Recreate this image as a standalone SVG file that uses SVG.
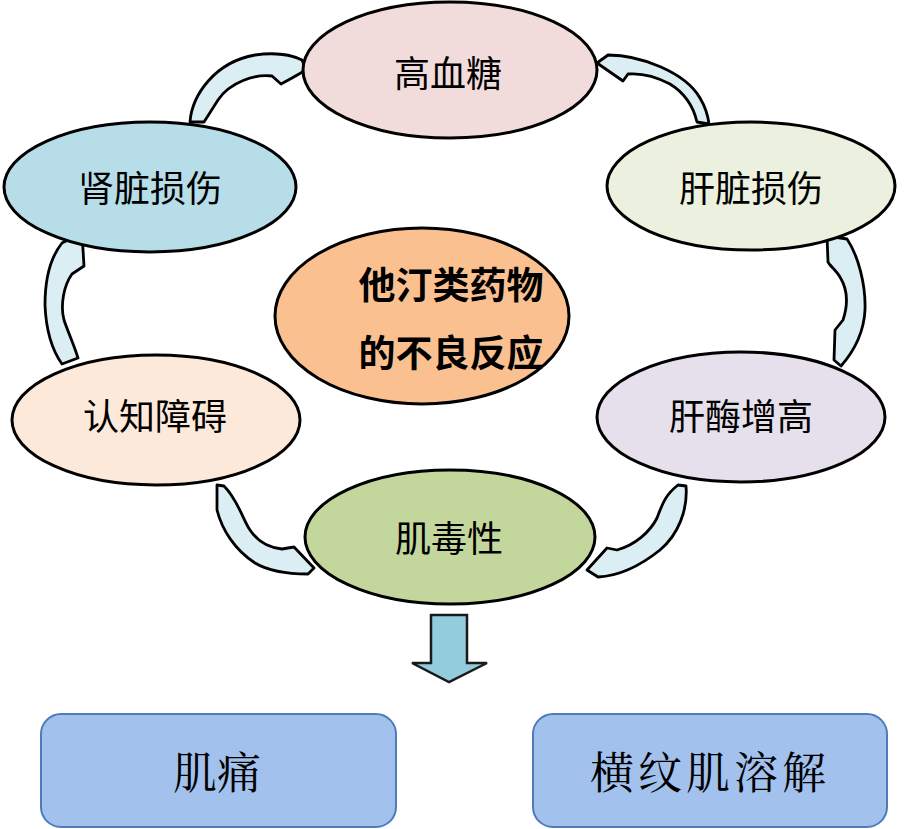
<svg xmlns="http://www.w3.org/2000/svg" width="915" height="829" viewBox="0 0 915 829">
<style>
.el{stroke:#000;stroke-width:3}
.ca{fill:#dbeef4;stroke:#000;stroke-width:2.8;stroke-linejoin:round}
.t{font-family:"Noto Sans CJK SC","Noto Sans",sans-serif;font-size:36px;fill:#000;text-anchor:middle;dominant-baseline:central}
.tb{font-weight:bold;font-size:37px}
.box{fill:#a2c1ed;stroke:#4f7bb8;stroke-width:2}
.bt{font-family:"Noto Serif CJK SC","Noto Sans CJK SC",serif;font-size:44px;fill:#000;text-anchor:middle;dominant-baseline:central}
</style>
<rect width="915" height="829" fill="#fff"/>
<g id="connectors">
<path class="ca" d="M190,122 C192,95 215,62 255,55 C275,52 292,55 302,60 L306,70 L292,78 L281,84 L272,76 C255,74 230,82 218,100 L204,122 Z"/>
<path class="ca" d="M597,63 L608,55 C640,55 685,72 700,98 C706,108 708,116 709,124 L697,122 C693,105 683,92 670,84 C655,76 640,73 628,74 L623,81 Z"/>
<path class="ca" d="M62,243 L82,233 L84,266 L72,274 C64,285 60,305 64,320 C68,332 74,345 78,358 L62,364 C52,350 46,330 45,305 C45,280 50,258 62,243 Z"/>
<path class="ca" d="M827,236 L847,239 C858,255 866,285 865,310 C864,330 855,350 841,366 L834,360 L835,330 L843,320 C848,305 848,290 840,277 C836,270 830,266 828,262 Z"/>
<path class="ca" d="M217,485 L224,486 C238,500 243,520 250,530 C258,542 270,548 282,549 L294,547 L314,568 L308,574 C290,574 270,572 255,563 C235,550 222,530 217,510 Z"/>
<path class="ca" d="M678,485 L686,486 C688,510 678,535 660,550 C640,566 618,576 598,577 L587,570 L607,548 L617,550 C635,545 650,532 657,518 C662,505 665,495 678,485 Z"/>
<path d="M431,615 L467,615 L467,663 L487,663 L449,682 L412,663 L431,663 Z" fill="#93cddd" stroke="#1a1a1a" stroke-width="2.5" stroke-linejoin="miter"/>
</g>
<g id="n-gaoxuetang">
<ellipse class="el" cx="450" cy="70" rx="147" ry="68" fill="#f2dcdb"/>
<text class="t" x="448" y="71">高血糖</text>
</g>
<g id="n-shenzang">
<ellipse class="el" cx="150" cy="187" rx="146" ry="65" fill="#b7dee8"/>
<text class="t" x="150" y="186">肾脏损伤</text>
</g>
<g id="n-ganzang">
<ellipse class="el" cx="751" cy="186" rx="144" ry="64" fill="#ebf1de"/>
<text class="t" x="751" y="186">肝脏损伤</text>
</g>
<g id="n-center">
<ellipse class="el" cx="422" cy="316" rx="147" ry="88" fill="#fac090"/>
<text class="t tb" x="451" y="283">他汀类药物</text>
<text class="t tb" x="451" y="351">的不良反应</text>
</g>
<g id="n-renzhi">
<ellipse class="el" cx="156" cy="420" rx="144" ry="65" fill="#fde9d9"/>
<text class="t" x="155" y="414">认知障碍</text>
</g>
<g id="n-ganmei">
<ellipse class="el" cx="741" cy="417" rx="144" ry="65" fill="#e5e0ec"/>
<text class="t" x="741" y="414">肝酶增高</text>
</g>
<g id="n-jiduxing">
<ellipse class="el" cx="450" cy="537" rx="145" ry="67" fill="#c3d69b"/>
<text class="t" x="449" y="536">肌毒性</text>
</g>
<g id="n-jitong">
<rect class="box" x="41" y="714" width="355" height="113" rx="20"/>
<text class="bt" x="217" y="770">肌痛</text>
</g>
<g id="n-hengwen">
<rect class="box" x="533" y="714" width="354" height="113" rx="20"/>
<text class="bt" x="710" y="770" letter-spacing="4">横纹肌溶解</text>
</g>
</svg>
